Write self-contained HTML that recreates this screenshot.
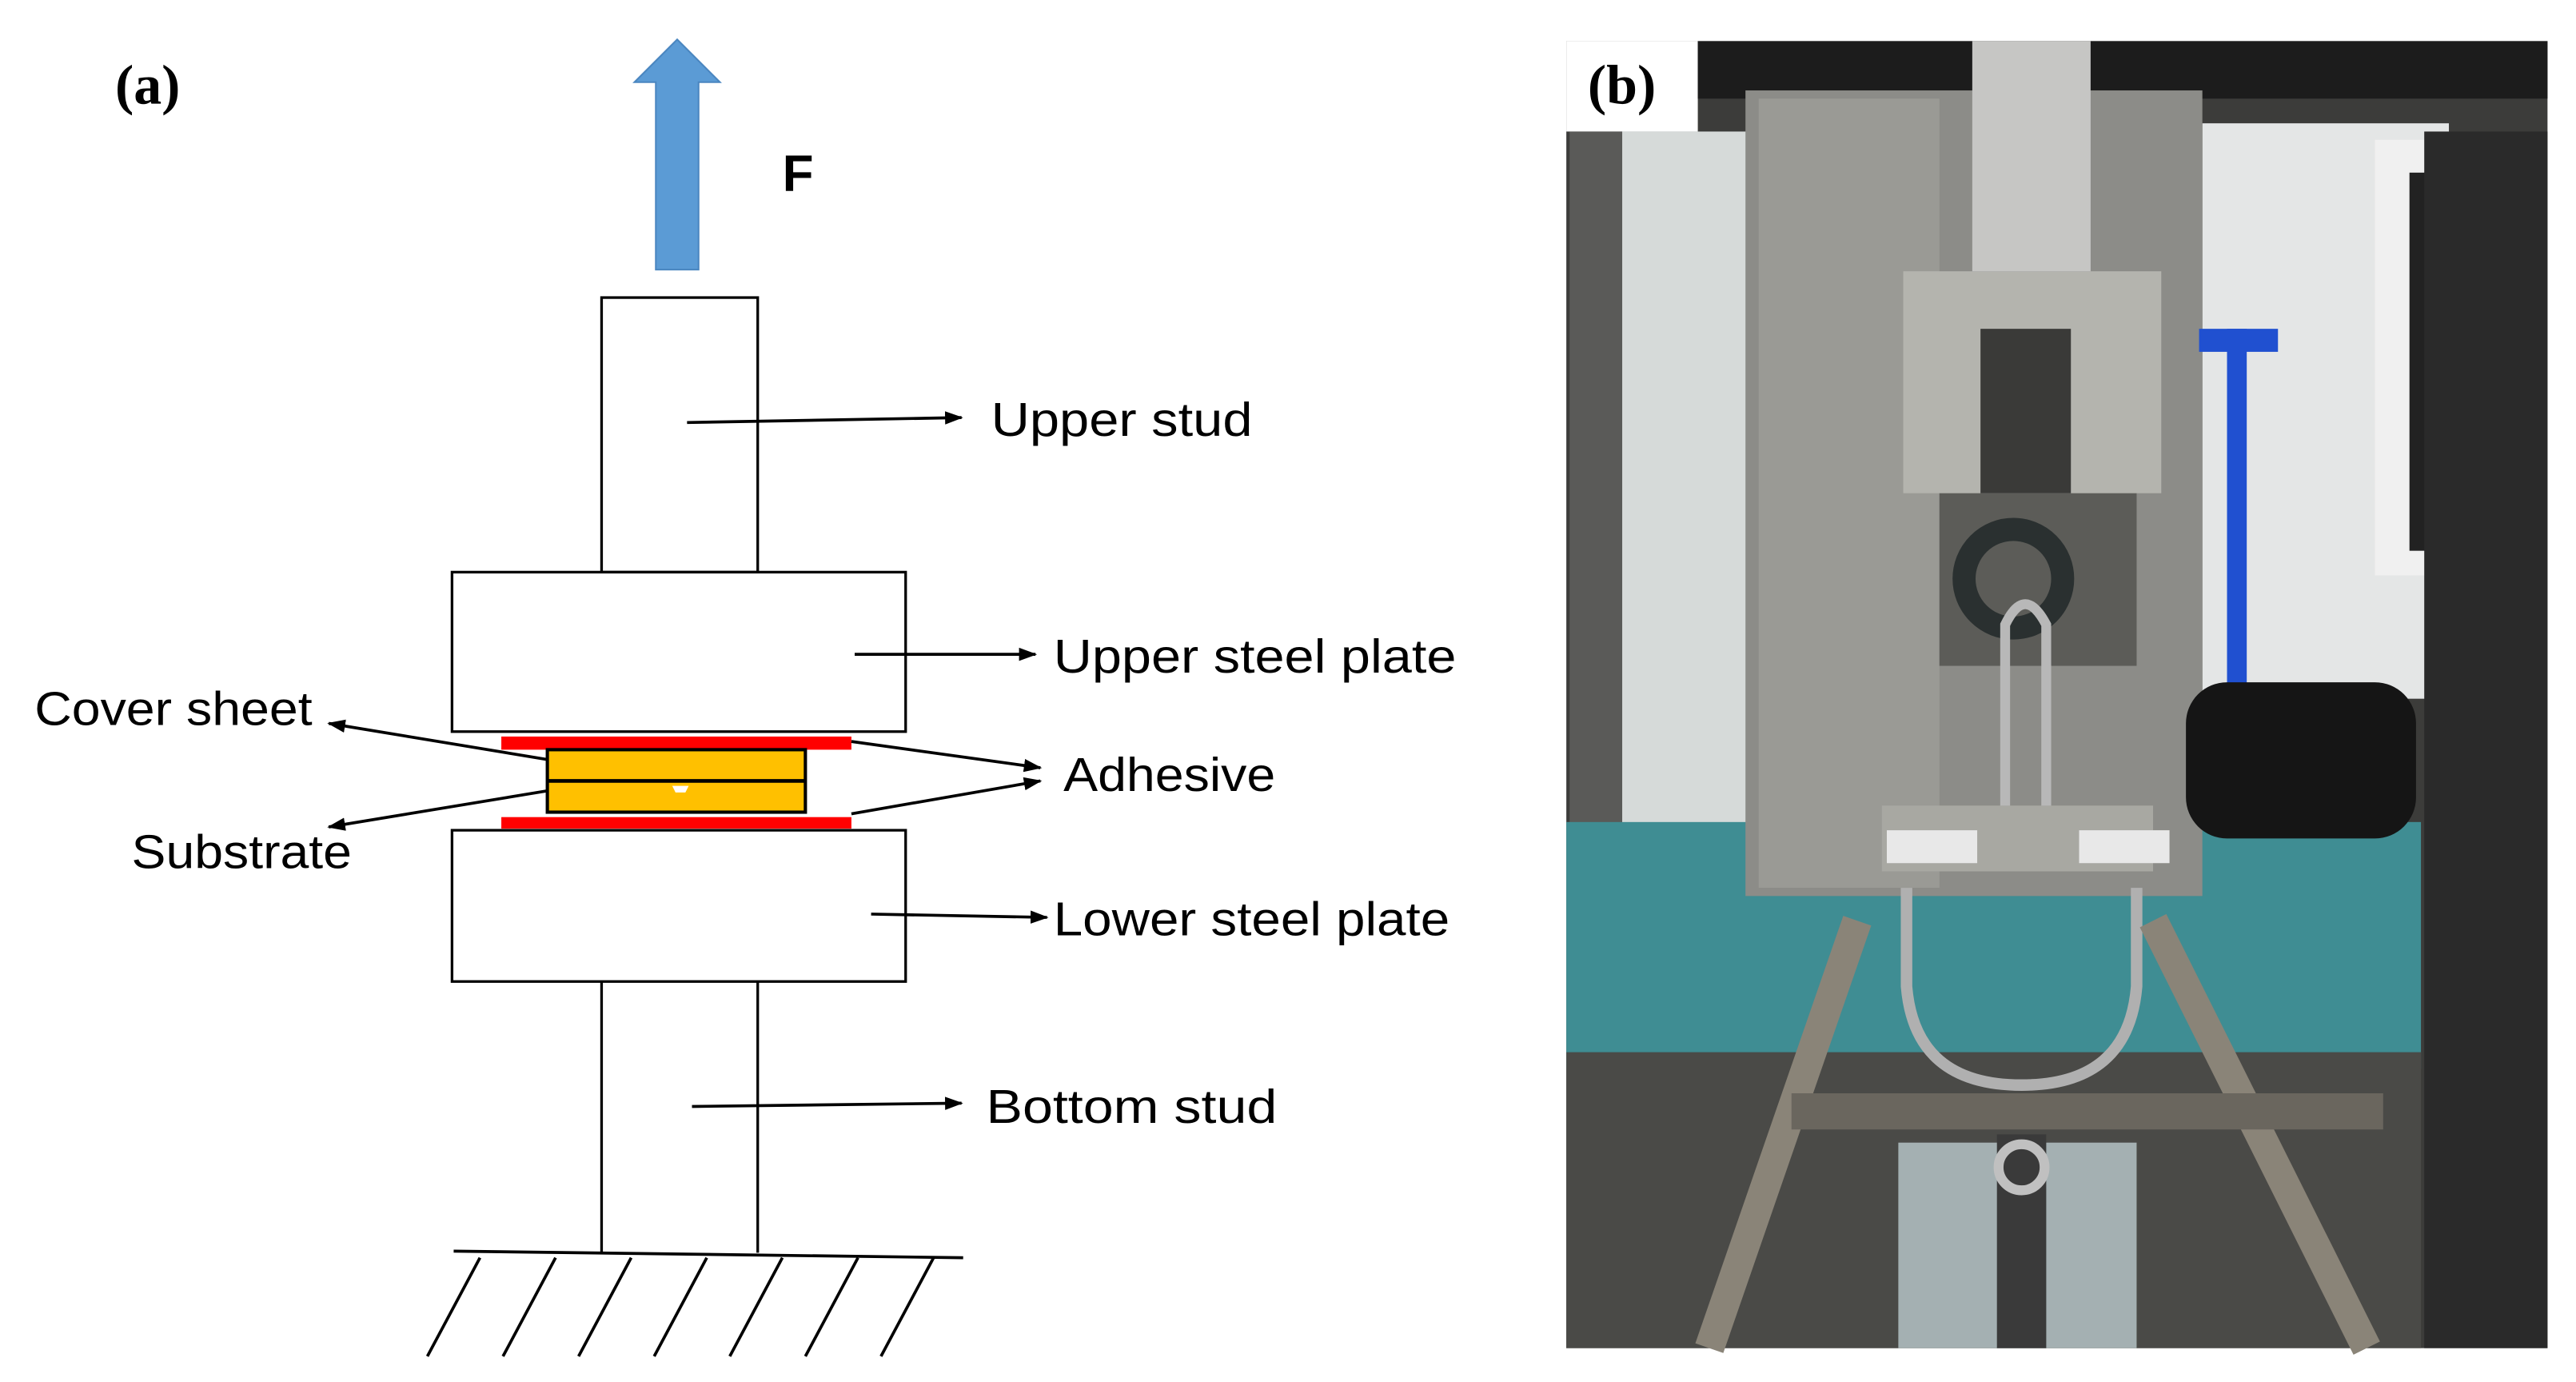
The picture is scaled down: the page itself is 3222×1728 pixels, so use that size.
<!DOCTYPE html>
<html><head><meta charset="utf-8"><style>
html,body{margin:0;padding:0;background:#fff;}
svg{display:block;}
</style></head><body>
<svg width="3222" height="1728" viewBox="0 0 1567.3 840.6" xmlns="http://www.w3.org/2000/svg">
<defs>
<marker id="ah" markerWidth="11" markerHeight="10" refX="10" refY="5" orient="auto" markerUnits="userSpaceOnUse"><path d="M0,1 L11,5 L0,9 Z" fill="#000"/></marker>
</defs>
<rect width="1567.3" height="840.6" fill="#fff"/>
<text x="70" y="63" font-family="Liberation Serif, serif" font-weight="bold" font-size="34">(a)</text>
<path d="M399,164 L399,50 L386,50 L412,24 L438,50 L425,50 L425,164 Z" fill="#5b9bd5" stroke="#4a86c0" stroke-width="1"/>
<text x="476" y="116" font-family="Liberation Sans, sans-serif" font-weight="bold" font-size="31">F</text>
<g fill="none" stroke="#000" stroke-width="1.6">
<rect x="366" y="181" width="95" height="167"/>
<rect x="275" y="348" width="276" height="97"/>
<rect x="275" y="505" width="276" height="92"/>
<line x1="366" y1="597" x2="366" y2="762"/>
<line x1="461" y1="597" x2="461" y2="762"/>
</g>
<rect x="305" y="448" width="213" height="8" fill="#ff0000"/>
<rect x="305" y="497" width="213" height="7" fill="#ff0000"/>
<rect x="333" y="456" width="157" height="38" fill="#ffc000" stroke="#000" stroke-width="2"/>
<line x1="333" y1="475" x2="490" y2="475" stroke="#000" stroke-width="2.2"/>
<path d="M409,478 L419,478 L417,482 L411,482 Z" fill="#fff"/>
<g stroke="#000" stroke-width="1.8">
<line x1="276" y1="761" x2="586" y2="765"/>
<line x1="260" y1="825" x2="292" y2="765"/>
<line x1="306" y1="825" x2="338" y2="765"/>
<line x1="352" y1="825" x2="384" y2="765"/>
<line x1="398" y1="825" x2="430" y2="765"/>
<line x1="444" y1="825" x2="476" y2="765"/>
<line x1="490" y1="825" x2="522" y2="765"/>
<line x1="536" y1="825" x2="568" y2="765"/>
</g>
<g stroke="#000" stroke-width="1.8" fill="none" marker-end="url(#ah)">
<line x1="418" y1="257" x2="585" y2="254"/>
<line x1="520" y1="398" x2="630" y2="398"/>
<line x1="333" y1="462" x2="200" y2="440"/>
<line x1="333" y1="481" x2="200" y2="503"/>
<line x1="518" y1="451" x2="633" y2="467"/>
<line x1="518" y1="495" x2="633" y2="475"/>
<line x1="530" y1="556" x2="637" y2="558"/>
<line x1="421" y1="673" x2="585" y2="671"/>
</g>
<g font-family="Liberation Sans, sans-serif" font-size="29" fill="#000" lengthAdjust="spacingAndGlyphs">
<text x="603" y="265" textLength="159" lengthAdjust="spacingAndGlyphs">Upper stud</text>
<text x="641" y="409" textLength="245" lengthAdjust="spacingAndGlyphs">Upper steel plate</text>
<text x="21" y="441" textLength="169" lengthAdjust="spacingAndGlyphs">Cover sheet</text>
<text x="647" y="481" textLength="129" lengthAdjust="spacingAndGlyphs">Adhesive</text>
<text x="80" y="528" textLength="134" lengthAdjust="spacingAndGlyphs">Substrate</text>
<text x="641" y="569" textLength="241" lengthAdjust="spacingAndGlyphs">Lower steel plate</text>
<text x="600" y="683" textLength="177" lengthAdjust="spacingAndGlyphs">Bottom stud</text>
</g>
<g>
<rect x="953" y="25" width="597" height="795" fill="#3c3c3a"/>
<rect x="953" y="25" width="80" height="55" fill="#fff"/>
<rect x="1033" y="25" width="517" height="35" fill="#1c1c1c"/>
<rect x="985" y="80" width="80" height="480" fill="#d6dad9"/>
<rect x="955" y="80" width="32" height="580" fill="#5a5a58"/>
<rect x="1340" y="75" width="150" height="350" fill="#e4e6e6"/>
<rect x="1445" y="85" width="50" height="265" fill="#f0f0f0"/>
<rect x="1466" y="105" width="12" height="230" fill="#222"/>
<rect x="1475" y="80" width="75" height="740" fill="#2a2a2a"/>
<rect x="953" y="500" width="520" height="150" fill="#3f8d93"/>
<rect x="953" y="640" width="520" height="180" fill="#4a4a47"/>
<rect x="1062" y="55" width="278" height="490" fill="#8c8c88"/>
<rect x="1070" y="60" width="110" height="480" fill="#9a9a95"/>
<rect x="1180" y="285" width="120" height="120" fill="#5c5c58"/>
<rect x="1158" y="165" width="157" height="135" fill="#b4b4ae"/>
<rect x="1205" y="200" width="55" height="100" fill="#3a3a38"/>
<rect x="1200" y="25" width="72" height="140" fill="#c6c6c4"/>
<rect x="1338" y="200" width="48" height="14" fill="#2050d0"/>
<rect x="1355" y="200" width="12" height="220" fill="#2050d0"/>
<rect x="1330" y="415" width="140" height="95" rx="25" fill="#151515"/>
<circle cx="1225" cy="352" r="30" fill="none" stroke="#2a3030" stroke-width="14"/>
<path d="M1220,500 L1220,380 Q1232,355 1245,380 L1245,500" fill="none" stroke="#b8b8b8" stroke-width="6"/>
<rect x="1145" y="490" width="165" height="40" fill="#a8a8a2"/>
<rect x="1148" y="505" width="55" height="20" fill="#e8e8e8"/>
<rect x="1265" y="505" width="55" height="20" fill="#e8e8e8"/>
<path d="M1160,540 L1160,600 Q1165,660 1230,660 Q1295,660 1300,600 L1300,540" fill="none" stroke="#b0b0b0" stroke-width="7"/>
<path d="M1130,560 L1040,820" stroke="#8a8478" stroke-width="18"/>
<path d="M1310,560 L1440,820" stroke="#8a8478" stroke-width="18"/>
<rect x="1090" y="665" width="360" height="22" fill="#6a665e"/>
<rect x="1155" y="695" width="145" height="125" fill="#a4b0b2"/>
<rect x="1215" y="690" width="30" height="130" fill="#3a3a3a"/>
<circle cx="1230" cy="710" r="14" fill="none" stroke="#c0c0c0" stroke-width="6"/>
</g>
<text x="966" y="63" font-family="Liberation Serif, serif" font-weight="bold" font-size="34">(b)</text>
</svg>
</body></html>
